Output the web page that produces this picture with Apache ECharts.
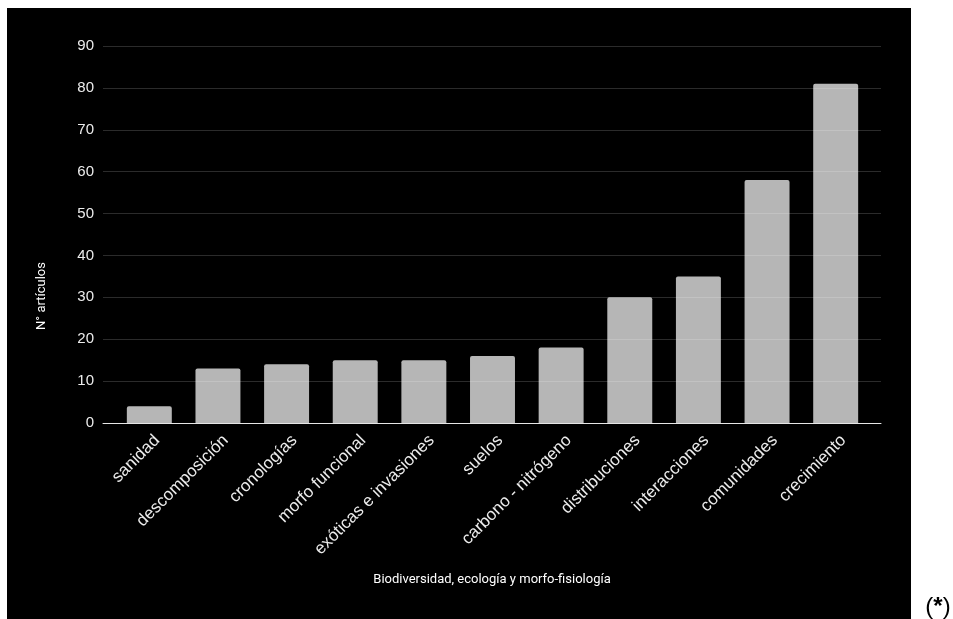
<!DOCTYPE html>
<html>
<head>
<meta charset="utf-8">
<script src="https://cdn.jsdelivr.net/npm/echarts@6/dist/echarts.min.js"></script>
<style>
html,body{margin:0;padding:0;background:#fff;}
#chart{width:953px;height:619px;}
</style>
</head>
<body>
<div id="chart"></div>
<script>
const categories = ['sanidad','descomposición','cronologías','morfo funcional','exóticas e invasiones','suelos','carbono - nitrógeno','distribuciones','interacciones','comunidades','crecimiento'];
const values = [4, 13, 14, 15, 15, 16, 18, 30, 35, 58, 81];
const xTitle = 'Biodiversidad, ecología y morfo-fisiología';
const yTitle = 'N° artículos';

const chart = echarts.init(document.getElementById('chart'), null, {renderer:'canvas'});
chart.setOption({
  backgroundColor: '#ffffff',
  animation: false,
  graphic: [
    {type:'rect', shape:{x:7, y:8, width:904, height:611}, style:{fill:'#000000'}, z:-10, silent:true},
    {type:'text', x:42, y:296, rotation:Math.PI/2, style:{text:yTitle, fill:'#ffffff', font:'13px Roboto', align:'center', verticalAlign:'middle'}, z:10},
    {type:'text', x:938, y:607, style:{
      text:'{p|(}{s|*}{p|)}', align:'center', verticalAlign:'middle',
      rich:{p:{fill:'#000', fontSize:24, fontFamily:'Liberation Sans'}, s:{fill:'#000', fontSize:24, fontWeight:'bold', fontFamily:'Liberation Sans'}}
    }, z:10}
  ],
  grid: [
    {left:103, right:72, top:46, bottom:196, containLabel:false},
    {left:115, right:83, top:46, bottom:196, containLabel:false}
  ],
  xAxis: [
    {
      type:'value', gridIndex:0, min:0, max:1, z:5,
      axisLine:{show:true, onZero:false, lineStyle:{color:'#e6e6e6', width:1}},
      axisTick:{show:false}, axisLabel:{show:false}, splitLine:{show:false},
      name: xTitle, nameLocation:'middle', nameGap:150,
      nameTextStyle:{color:'#ffffff', fontSize:13, fontFamily:'Roboto'}
    },
    {
      type:'category', gridIndex:1, data: categories, z:5,
      axisLine:{show:false}, axisTick:{show:false},
      axisLabel:{rotate:45, color:'#ececec', fontSize:17, fontFamily:'Liberation Sans', margin:7, interval:0, verticalAlign:'top', lineHeight:22}
    }
  ],
  yAxis: [
    {
      type:'value', gridIndex:0, min:0, max:90, interval:10, z:5,
      axisLine:{show:false}, axisTick:{show:false},
      axisLabel:{color:'#ececec', fontSize:15, fontFamily:'Liberation Sans', margin:9},
      splitLine:{show:true, lineStyle:{color:'rgba(255,255,255,0.17)', width:1}}
    },
    {
      type:'value', gridIndex:1, min:0, max:90, interval:10,
      axisLine:{show:false}, axisTick:{show:false}, axisLabel:{show:false}, splitLine:{show:false}
    }
  ],
  series: [{
    type:'bar', xAxisIndex:1, yAxisIndex:1, data: values, barCategoryGap:'34.5%', z:2,
    itemStyle:{color:'#b6b6b6', borderRadius:[2,2,0,0]}
  }]
});
</script>
</body>
</html>
